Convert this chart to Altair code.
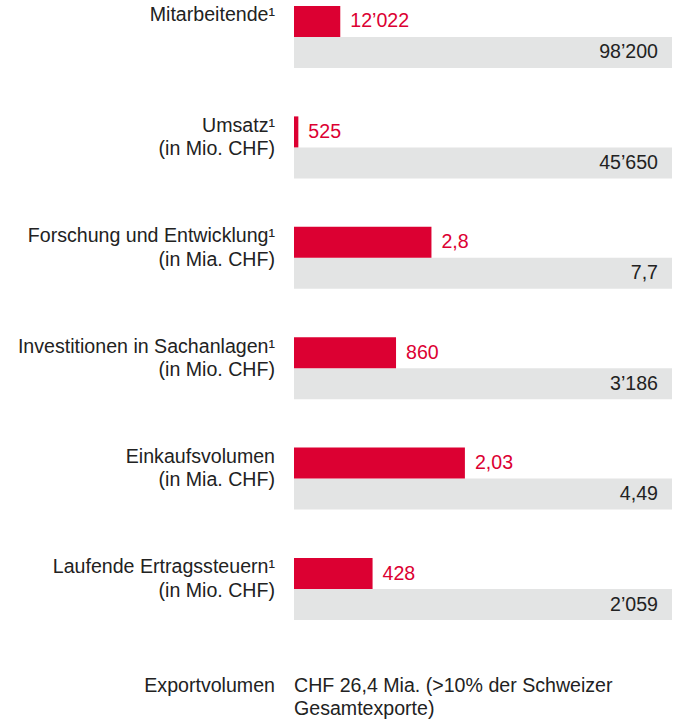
import altair as alt
import pandas as pd

# ---- data ----
names = ["Mitarbeitende¹", "Umsatz¹", "Forschung und Entwicklung¹",
         "Investitionen in Sachanlagen¹", "Einkaufsvolumen", "Laufende Ertragssteuern¹"]
units = ["", "(in Mio. CHF)", "(in Mia. CHF)", "(in Mio. CHF)", "(in Mia. CHF)", "(in Mio. CHF)"]
swiss = [12022, 525, 2.8, 860, 2.03, 428]
total = [98200, 45650, 7.7, 3186, 4.49, 2059]
swiss_text = ["12’022", "525", "2,8", "860", "2,03", "428"]
total_text = ["98’200", "45’650", "7,7", "3’186", "4,49", "2’059"]
export_name = "Exportvolumen"
export_text = "CHF 26,4 Mia. (>10% der Schweizer|Gesamtexporte)"

rows = names + [export_name]

RED = "#DC0032"
GREY = "#E3E4E4"
TXT = "#222222"
FONT = "Liberation Sans"
FS = 19.6

df = pd.DataFrame({
    "name": names,
    "label": [n if u == "" else n + "|" + u for n, u in zip(names, units)],
    "swiss": swiss,
    "total": total,
    "swiss_text": swiss_text,
    "total_text": total_text,
})
exp_df = pd.DataFrame({"name": [export_name], "label": [export_name],
                       "text": [export_text], "zero": [0.0]})

y = alt.Y("name:N", sort=rows,
          scale=alt.Scale(domain=rows, paddingInner=0.5417, paddingOuter=0, align=0),
          axis=None)
xscale = alt.Scale(domain=[0, 1], nice=False, zero=True)

base = alt.Chart(df).transform_calculate(
    share="datum.swiss / datum.total", full="1",
    lines="split(datum.label, '|')")

grey = base.mark_bar(height=31, yOffset=21.2, color=GREY).encode(
    x=alt.X("full:Q", scale=xscale, axis=None), y=y)
red = base.mark_bar(height=31, yOffset=-9.8, color=RED).encode(
    x=alt.X("share:Q", scale=xscale, axis=None), y=y)
red_txt = base.mark_text(align="left", baseline="alphabetic", dx=10, yOffset=-3.8,
                         font=FONT, fontSize=FS, color=RED).encode(
    x=alt.X("share:Q", scale=xscale, axis=None), y=y, text="swiss_text:N")
grey_txt = base.mark_text(align="right", baseline="alphabetic", dx=-14, yOffset=27.2,
                          font=FONT, fontSize=FS, color=TXT).encode(
    x=alt.X("full:Q", scale=xscale, axis=None), y=y, text="total_text:N")
labels = base.mark_text(align="right", baseline="alphabetic", dx=-19, yOffset=-10,
                        lineHeight=23.5, font=FONT, fontSize=FS, color=TXT).encode(
    x=alt.X(datum=0, scale=xscale, axis=None), y=y, text="lines:N")

ebase = alt.Chart(exp_df).transform_calculate(lines="split(datum.text, '|')")
exp_label = ebase.mark_text(align="right", baseline="alphabetic", dx=-19, yOffset=-2,
                            font=FONT, fontSize=FS, color=TXT).encode(
    x=alt.X("zero:Q", scale=xscale, axis=None), y=y, text="label:N")
exp_val = ebase.mark_text(align="left", baseline="alphabetic", dx=0, yOffset=-2,
                          lineHeight=23, font=FONT, fontSize=FS, color=TXT).encode(
    x=alt.X("zero:Q", scale=xscale, axis=None), y=y, text="lines:N")

chart = alt.layer(grey, red, red_txt, grey_txt, labels, exp_label, exp_val).properties(
    width=378, height=713,
    background="white",
    autosize=alt.AutoSizeParams(type="none"),
    padding={"left": 294, "top": 6, "right": 3, "bottom": 0},
).configure_view(strokeWidth=0, stroke=None)

chart.save("out.html", embed_options={"renderer": "svg", "actions": False})
